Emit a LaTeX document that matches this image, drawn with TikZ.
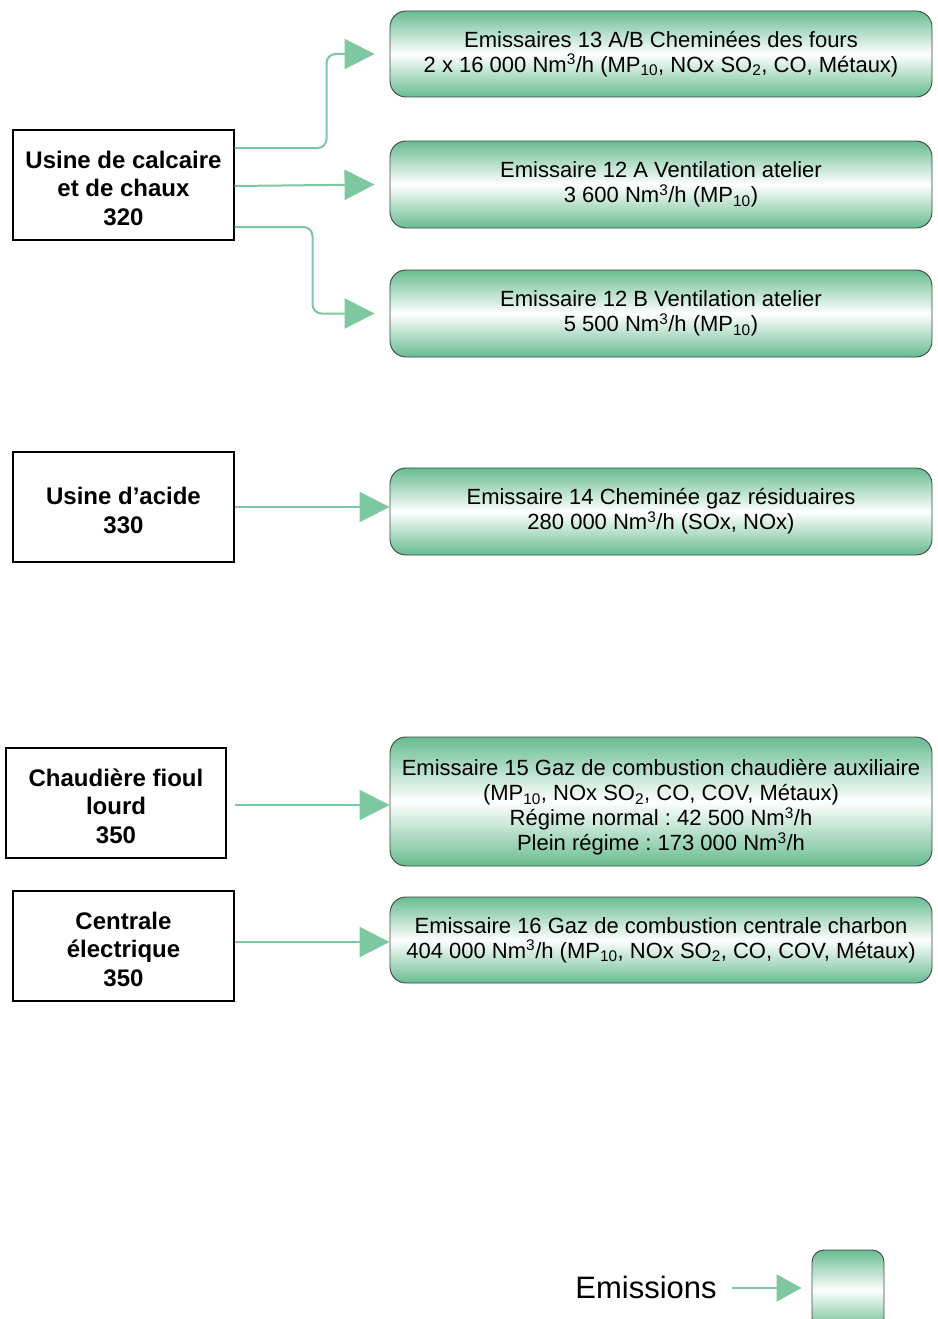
\documentclass[tikz,border=0pt]{standalone}
\usepackage{fontspec}
\setmainfont{Liberation Sans}
\usetikzlibrary{arrows.meta}
\definecolor{arrgreen}{RGB}{125,200,160}
\definecolor{boxgreen}{RGB}{104,188,144}
\definecolor{boxedge}{RGB}{60,70,65}
\tikzset{
  srcbox/.style={draw=black, line width=1.3pt, fill=white, align=center, inner sep=0pt,
    minimum width=221pt, minimum height=110pt, font=\fontsize{24}{28.5}\selectfont\bfseries},
  emitbox/.style={draw=boxedge, line width=0.9pt, rounded corners=16pt, align=center, inner sep=0pt,
    minimum width=542pt, top color=boxgreen, bottom color=boxgreen, middle color=white,
    font=\fontsize{22}{25}\selectfont},
  arr/.style={draw=arrgreen, line width=2pt, rounded corners=9pt,
    -{Triangle[length=30pt,width=30pt,fill=arrgreen]}},
  legarr/.style={draw=arrgreen, line width=2pt,
    -{Triangle[length=25pt,width=27pt,fill=arrgreen]}}
}
\frenchspacing
\newcommand{\nmt}{Nm\textsuperscript{3}/h}
\newcommand{\sbs}[1]{\textsubscript{#1}}
\newcommand{\lowr}{\rule{0pt}{24pt}}
\begin{document}
\begin{tikzpicture}[x=1pt,y=-1pt]
\useasboundingbox (0,0) rectangle (937,1319);
% source boxes
\node[srcbox] (u1) at (123.5,185) {\lowr Usine de calcaire\\et de chaux\\320};
\node[srcbox] (u2) at (123.5,507) {\lowr Usine d’acide\\330};
\node[srcbox, minimum width=220pt] (u3) at (116,803) {\lowr Chaudière fioul\\lourd\\350};
\node[srcbox] (u4) at (123.5,946) {\lowr Centrale\\électrique\\350};
% emission boxes
\node[emitbox, minimum height=86pt] (e1) at (661,54)
  {Emissaires 13 A/B Cheminées des fours\\2 x 16 000 \nmt{} (MP\sbs{10}, NOx SO\sbs{2}, CO, Métaux)};
\node[emitbox, minimum height=87pt] (e2) at (661,184.5)
  {Emissaire 12 A Ventilation atelier\\3 600 \nmt{} (MP\sbs{10})};
\node[emitbox, minimum height=87pt] (e3) at (661,313.5)
  {Emissaire 12 B Ventilation atelier\\5 500 \nmt{} (MP\sbs{10})};
\node[emitbox, minimum height=87pt] (e4) at (661,511.5)
  {Emissaire 14 Cheminée gaz résiduaires\\280 000 \nmt{} (SOx, NOx)};
\node[emitbox, minimum height=129pt] (e5) at (661,801.5)
  {\rule{0pt}{28pt}Emissaire 15 Gaz de combustion chaudière auxiliaire\\(MP\sbs{10}, NOx SO\sbs{2}, CO, COV, Métaux)\\Régime normal : 42 500 \nmt\\Plein régime : 173 000 \nmt};
\node[emitbox, minimum height=86pt] (e6) at (661,940)
  {Emissaire 16 Gaz de combustion centrale charbon\\404 000 \nmt{} (MP\sbs{10}, NOx SO\sbs{2}, CO, COV, Métaux)};
% connectors
\draw[arr] ([yshift=37pt]u1.east) -| ([xshift=-63pt]e1.west) -- ([xshift=-15pt]e1.west);
\draw[arr] ([yshift=-1pt]u1.east) -- ([xshift=-15pt]e2.west);
\draw[arr] ([yshift=-42pt]u1.east) -| ([xshift=-77pt]e3.west) -- ([xshift=-15pt]e3.west);
\draw[arr] (u2.east) -- (e4.west |- u2.east);
\draw[arr] ([xshift=8pt,yshift=-2pt]u3.east) -- (e5.west |- 0,805);
\draw[arr] ([yshift=4pt]u4.east) -- (e6.west |- 0,942);
% legend
\node[font=\fontsize{31}{36}\selectfont, inner sep=0pt] (leg) at (646,1287) {Emissions};
\node[emitbox, minimum width=72pt, minimum height=80pt, rounded corners=12pt] (legbox) at (848,1290) {};
\draw[legarr] ([xshift=15pt,yshift=-1pt]leg.east) -- ([xshift=-10pt]legbox.west |- 0,1288);
\end{tikzpicture}
\end{document}
